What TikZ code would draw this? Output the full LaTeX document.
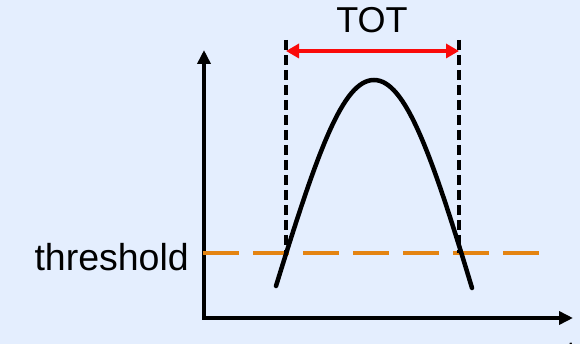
\documentclass[tikz,border=0pt]{standalone}
\usepackage{fontspec}
\setmainfont{Liberation Sans}
\usetikzlibrary{arrows.meta}
\definecolor{bgblue}{RGB}{228,238,254}
\definecolor{throrange}{RGB}{228,132,18}
\definecolor{totred}{RGB}{250,10,10}
\begin{document}
\begin{tikzpicture}[x=1pt,y=-1pt,
  axisline/.style={line width=4.5pt,black,{Triangle[length=14pt,width=13pt]}-{Triangle[length=14pt,width=13pt]}},
  edgeline/.style={line width=4.5pt,black,dash pattern=on 10pt off 5pt},
  thrline/.style={line width=4pt,throrange,dash pattern=on 36pt off 14pt},
  totarrow/.style={line width=4pt,totred,{Triangle[length=13pt,width=14pt]}-{Triangle[length=13pt,width=14pt]}},
  pulse/.style={line width=4.5pt,black,line cap=round},
  lbl/.style={font=\fontsize{36}{40}\selectfont,inner sep=0pt}]
\fill[bgblue] (0,0) rectangle (580,344);
\useasboundingbox (0,0) rectangle (580,344);
% axes
\coordinate (ytip) at (204,50);
\coordinate (origin) at (204,318);
\coordinate (xtip) at (573,318);
\draw[axisline,line join=miter] (ytip) -- (origin) -- (xtip);
% threshold
\coordinate (thrL) at (203,253);
\coordinate (thrR) at (540,253);
\draw[thrline] (thrL) -- (thrR);
\node[lbl,font=\fontsize{37.5}{41}\selectfont,anchor=base east] (thr) at (189,270) {threshold};
% pulse
\coordinate (pstart) at (276,286);
\coordinate (ppeak) at (374,80);
\coordinate (pend) at (472,288);
\draw[pulse] (pstart) .. controls (318,150) and (343,80) .. (ppeak)
  .. controls (405,80) and (431,152) .. (pend);
% TOT edges
\coordinate (eLtop) at (286,40);
\coordinate (eLbot) at (286,253);
\coordinate (eRtop) at (459,40);
\coordinate (eRbot) at (459,253);
\draw[edgeline] (eLtop) -- (eLbot);
\draw[edgeline] (eRtop) -- (eRbot);
\coordinate (aL) at (286,51);
\coordinate (aR) at (459,51);
\draw[totarrow] (aL) -- (aR);
\node[lbl,anchor=base] (tot) at (372,33) {TOT};
% time label (clipped at bottom edge, as in the reference)
\node[lbl,anchor=base west] (tlabel) at (566,366) {t};
\end{tikzpicture}
\end{document}
